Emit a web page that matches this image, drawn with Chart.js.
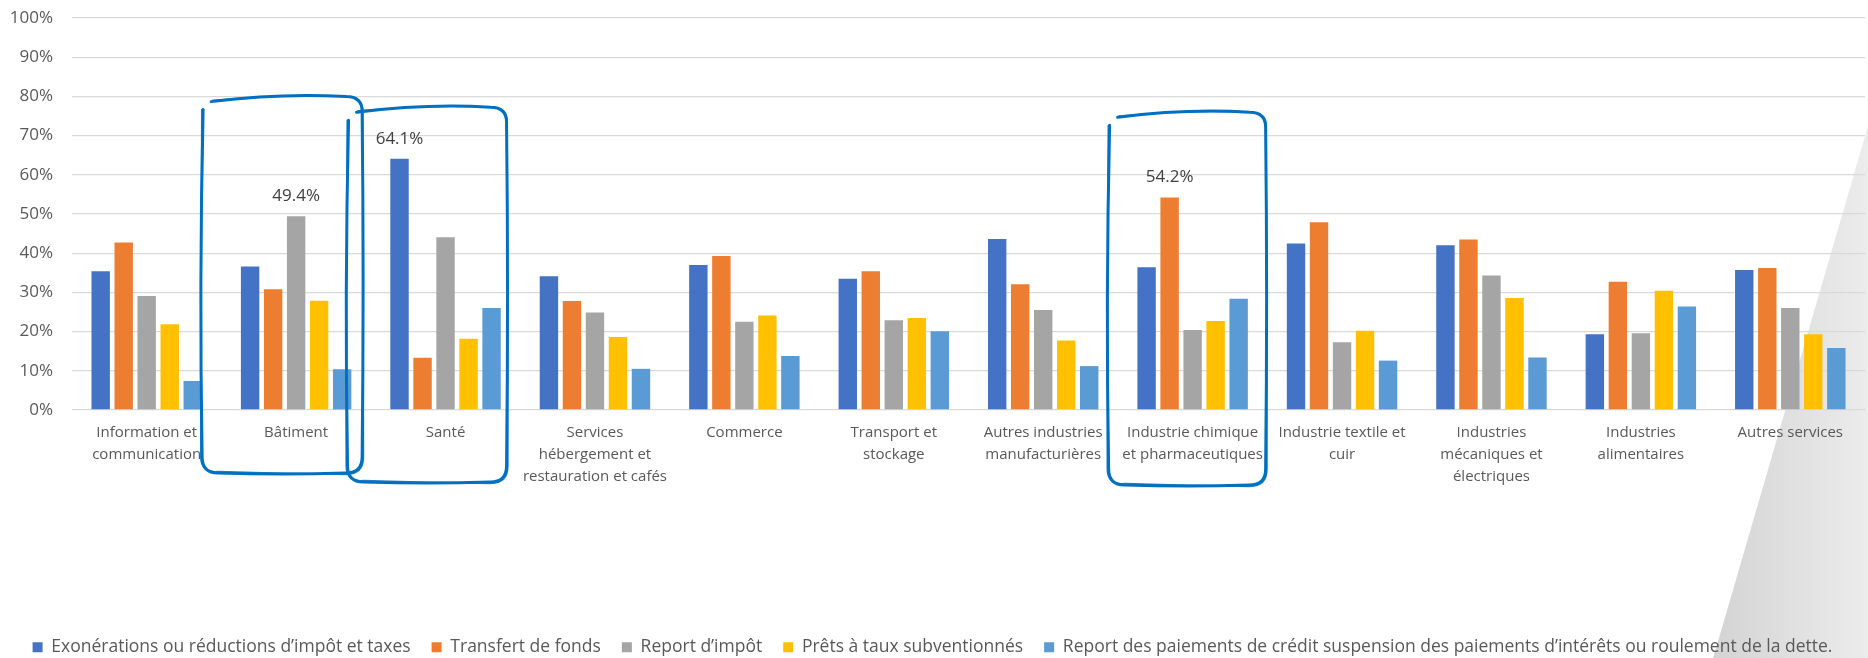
<!DOCTYPE html>
<html><head><meta charset="utf-8">
<script src="https://cdn.jsdelivr.net/npm/chart.js@4"></script>
<style>html,body{margin:0;padding:0;overflow:hidden;background:#fff}#wrap{width:1868px;height:666px;position:relative}</style>
</head><body><div id="wrap"><canvas id="c"></canvas></div>
<script>
const categories = [
  ["Information et", "communication"],
  "Bâtiment",
  "Santé",
  ["Services", "hébergement et", "restauration et cafés"],
  "Commerce",
  ["Transport et", "stockage"],
  ["Autres industries", "manufacturières"],
  ["Industrie chimique", "et pharmaceutiques"],
  ["Industrie textile et", "cuir"],
  ["Industries", "mécaniques et", "électriques"],
  ["Industries", "alimentaires"],
  "Autres services"
];
const seriesNames = [
  "Exonérations ou réductions d’impôt et taxes",
  "Transfert de fonds",
  "Report d’impôt",
  "Prêts à taux subventionnés",
  "Report des paiements de crédit suspension des paiements d’intérêts ou roulement de la dette."
];
const exonerations = [35.4, 36.6, 64.1, 34.1, 37.0, 33.5, 43.6, 36.4, 42.5, 42.0, 19.3, 35.7];
const transfert    = [42.7, 30.8, 13.3, 27.8, 39.3, 35.4, 32.1, 54.2, 47.9, 43.5, 32.7, 36.2];
const reportImpot  = [29.1, 49.4, 44.1, 24.9, 22.5, 22.9, 25.5, 20.4, 17.3, 34.3, 19.6, 26.0];
const prets        = [21.9, 27.9, 18.2, 18.6, 24.1, 23.5, 17.7, 22.7, 20.2, 28.6, 30.4, 19.3];
const reportCredit = [7.4, 10.4, 26.0, 10.5, 13.8, 20.1, 11.2, 28.4, 12.6, 13.4, 26.4, 15.8];
const yTicks = [0, 10, 20, 30, 40, 50, 60, 70, 80, 90, 100];
// bars that carry a value label: [category index, series index]
const labelledBars = [[1, 2], [2, 0], [7, 1]];
// hand-drawn highlight frames: category index
const highlightCats = [1, 2, 7];

const colors = ["#4472C4", "#ED7D31", "#A5A5A5", "#FFC000", "#5B9BD5"];
const seriesData = [exonerations, transfert, reportImpot, prets, reportCredit];
const FONT = "'Open Sans', 'Noto Sans', sans-serif";
const TEXT = "#595959";

// frame geometry (decoration), relative to category centre and axis
const frameStyle = [
  {dl: -94, dr: 66, topVal: 80.2, below: 63},
  {dl: -98, dr: 61, topVal: 77.5, below: 72},
  {dl: -84, dr: 73, topVal: 76.2, below: 75}
];

function sketchFrame(ctx, x0, y0, x1, y1) {
  const r = 16;
  const path = (o) => {
    ctx.beginPath();
    ctx.moveTo(x0 + 9 + o, y0 + 6 - o);
    ctx.quadraticCurveTo((x0 + x1) / 2, y0 - 3 + o, x1 - r + o, y0 + 1);
    ctx.quadraticCurveTo(x1 + o, y0 + 1, x1 + o * 0.5, y0 + r);
    ctx.quadraticCurveTo(x1 + 2 - o, (y0 + y1) / 2, x1 + o, y1 - r);
    ctx.quadraticCurveTo(x1 + o, y1 + o, x1 - r, y1 + o);
    ctx.quadraticCurveTo((x0 + x1) / 2, y1 + 2 - o, x0 + r, y1 - o);
    ctx.quadraticCurveTo(x0 - o, y1, x0 - o, y1 - r);
    ctx.quadraticCurveTo(x0 - 3 + o, (y0 + y1) / 2, x0 + 1 - o, y0 + 14);
    ctx.stroke();
  };
  ctx.save();
  ctx.strokeStyle = "#0070C0";
  ctx.lineCap = "round";
  ctx.lineJoin = "round";
  ctx.lineWidth = 3;
  path(0);
  ctx.lineWidth = 1.3;
  ctx.globalAlpha = 0.85;
  path(1.5);
  ctx.restore();
}

const decor = {
  id: "decor",
  beforeDraw(chart) {
    const {ctx, width, height} = chart;
    const topY = 126;
    const xBottom = width - 0.291 * (height - topY);
    const g = ctx.createLinearGradient(xBottom, 0, width, 0);
    g.addColorStop(0, "#d3d3d3");
    g.addColorStop(1, "#ececec");
    ctx.save();
    ctx.fillStyle = g;
    ctx.beginPath();
    ctx.moveTo(width, topY);
    ctx.lineTo(width, height);
    ctx.lineTo(xBottom, height);
    ctx.closePath();
    ctx.fill();
    ctx.restore();
  },
  afterDatasetsDraw(chart) {
    const {ctx} = chart;
    ctx.save();
    ctx.font = "17px " + FONT;
    ctx.fillStyle = "#404040";
    ctx.textAlign = "center";
    ctx.textBaseline = "middle";
    labelledBars.forEach(([ci, si]) => {
      const el = chart.getDatasetMeta(si).data[ci];
      const v = seriesData[si][ci];
      ctx.fillText(v.toFixed(1) + "%", el.x, el.y - 20);
    });
    ctx.restore();
  },
  afterDraw(chart) {
    const xs = chart.scales.x, ys = chart.scales.y;
    const bottom = chart.chartArea.bottom;
    highlightCats.forEach((ci, k) => {
      const f = frameStyle[k];
      const cx = xs.getPixelForValue(ci);
      sketchFrame(chart.ctx, cx + f.dl, ys.getPixelForValue(f.topVal), cx + f.dr, bottom + f.below);
    });
  }
};

new Chart(document.getElementById("c"), {
  type: "bar",
  data: {
    labels: categories,
    datasets: seriesData.map((d, i) => ({
      label: seriesNames[i],
      data: d,
      backgroundColor: colors[i],
      borderColor: colors[i],
      borderWidth: 0,
      barPercentage: 0.8,
      categoryPercentage: 0.77
    }))
  },
  options: {
    responsive: true,
    maintainAspectRatio: false,
    animation: false,
    devicePixelRatio: 1,
    layout: {padding: {top: 18, right: 3, left: 0, bottom: 0}},
    plugins: {
      tooltip: {enabled: false},
      legend: {
        position: "bottom",
        labels: {boxWidth: 10, boxHeight: 10, padding: 21, color: TEXT, font: {family: FONT, size: 17.5}}
      }
    },
    scales: {
      x: {
        grid: {display: false},
        border: {display: false},
        ticks: {color: TEXT, font: {family: FONT, size: 15, lineHeight: 1.45}, maxRotation: 0, minRotation: 0, autoSkip: false, padding: 4},
        afterFit: (s) => { s.height = 207.5; }
      },
      y: {
        min: 0, max: 100,
        grid: {color: "#d9d9d9", lineWidth: 1.3, drawTicks: false},
        border: {display: false},
        afterBuildTicks: (s) => { s.ticks = yTicks.map(v => ({value: v})); },
        ticks: {color: TEXT, font: {family: FONT, size: 17}, padding: 19, callback: (v) => v + "%"},
        afterFit: (s) => { s.width = 72; s.paddingTop = 0; s.paddingBottom = 0; }
      }
    }
  },
  plugins: [decor]
});
</script>
</body></html>
